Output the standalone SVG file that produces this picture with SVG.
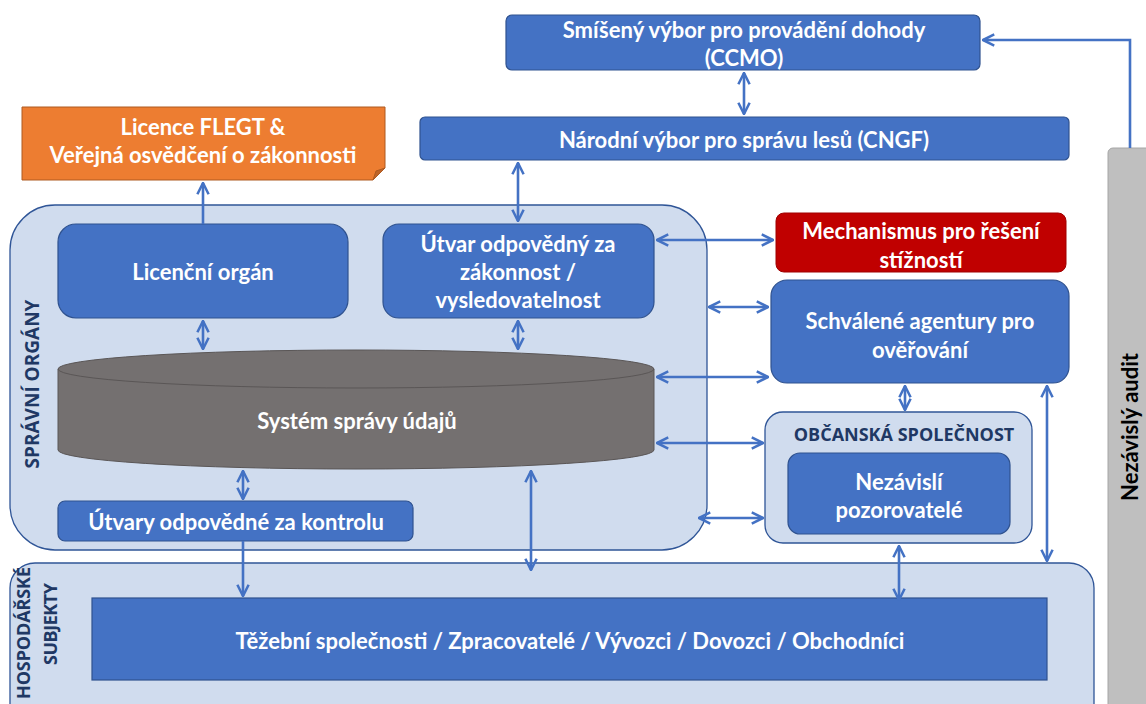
<svg xmlns="http://www.w3.org/2000/svg" width="1146" height="704" viewBox="0 0 1146 704">
<defs>
<style>
.box{fill:#4472C4;stroke:#2F528F;stroke-width:1.2}
.cont{fill:#D0DCEE;stroke:#2F5597;stroke-width:1.3}
.t{font-family:Lato,"Open Sans","Liberation Sans",sans-serif;font-weight:bold;font-size:22px;fill:#fff;text-anchor:middle;dominant-baseline:central}
.lab{font-family:"Open Sans",Lato,"Liberation Sans",sans-serif;font-weight:bold;font-size:18px;fill:#203864;text-anchor:middle;dominant-baseline:central}
.c{fill:none;stroke:#4472C4;stroke-width:2.6}
</style>
<marker id="ah" viewBox="0 0 10 10" refX="9" refY="5" markerWidth="5.4" markerHeight="5.4" orient="auto-start-reverse" markerUnits="strokeWidth">
<path d="M1,1 L9,5 L1,9" fill="none" stroke="#4472C4" stroke-width="1.8"/>
</marker>
</defs>
<rect width="1146" height="704" fill="#fff"/>

<g id="audit">
<rect x="1108" y="148" width="50" height="570" rx="5" fill="#BFBFBF" stroke="#A6A6A6"/>
<text class="t" transform="translate(1129,427) rotate(-90)" style="fill:#000">Nezávislý audit</text>
</g>

<g id="spravni-organy">
<rect class="cont" x="10" y="205" width="697" height="345" rx="45"/>
<text class="lab" transform="translate(32,384) rotate(-90)" style="font-size:19px">SPRÁVNÍ ORGÁNY</text>
</g>

<g id="hospodarske-subjekty">
<rect class="cont" x="10" y="563" width="1084" height="170" rx="25"/>
<text class="lab" transform="translate(23,633) rotate(-90)" textLength="132" lengthAdjust="spacing">HOSPODÁŘSKÉ</text>
<text class="lab" transform="translate(50,624) rotate(-90)" textLength="82" lengthAdjust="spacing">SUBJEKTY</text>
</g>

<g id="obcanska-spolecnost">
<rect class="cont" x="765" y="412" width="267" height="131" rx="18"/>
<text class="lab" x="904" y="434">OBČANSKÁ SPOLEČNOST</text>
</g>

<g id="licence">
<path d="M22,107 H385 V168 L373,180 H22 Z" fill="#ED7D31" stroke="#AE5A21" stroke-width="1"/>
<path d="M373,180 L376,171 L385,168 Z" fill="#BE6428" stroke="#AE5A21" stroke-width="1"/>
<text class="t" x="203" y="126">Licence FLEGT &amp;</text>
<text class="t" x="203" y="154">Veřejná osvědčení o zákonnosti</text>
</g>

<g id="ccmo">
<rect class="box" x="506" y="15" width="474" height="55" rx="6"/>
<text class="t" x="744" y="29">Smíšený výbor pro provádění dohody</text>
<text class="t" x="744" y="57">(CCMO)</text>
</g>

<g id="cngf">
<rect class="box" x="420" y="117" width="649" height="43" rx="5"/>
<text class="t" x="744" y="139">Národní výbor pro správu lesů (CNGF)</text>
</g>

<g id="licencni-organ">
<rect class="box" x="58" y="224" width="290" height="94" rx="18"/>
<text class="t" x="203" y="271">Licenční orgán</text>
</g>

<g id="utvar-zakonnost">
<rect class="box" x="383" y="224" width="271" height="94" rx="16"/>
<text class="t" x="518" y="243">Útvar odpovědný za</text>
<text class="t" x="518" y="271">zákonnost /</text>
<text class="t" x="518" y="299">vysledovatelnost</text>
</g>

<g id="system-spravy-udaju">
<path d="M58,369 A298,19 0 0 1 654,369 V450 A298,19 0 0 1 58,450 Z" fill="#747070" stroke="#5A5656" stroke-width="1"/>
<path d="M58,369 A298,19 0 0 0 654,369" fill="none" stroke="#5A5656" stroke-width="1"/>
<text class="t" x="357" y="420">Systém správy údajů</text>
</g>

<g id="utvary-kontrola">
<rect class="box" x="58" y="501" width="355" height="40" rx="7"/>
<text class="t" x="236" y="521">Útvary odpovědné za kontrolu</text>
</g>

<g id="mechanismus">
<rect x="776" y="213" width="290" height="59" rx="8" fill="#C00000" stroke="#A00000" stroke-width="1"/>
<text class="t" x="921" y="230">Mechanismus pro řešení</text>
<text class="t" x="921" y="259">stížností</text>
</g>

<g id="schvalene-agentury">
<rect class="box" x="771" y="280" width="298" height="103" rx="16"/>
<text class="t" x="920" y="320">Schválené agentury pro</text>
<text class="t" x="920" y="349">ověřování</text>
</g>

<g id="nezavisli-pozorovatele">
<rect class="box" x="788" y="453" width="222" height="81" rx="12"/>
<text class="t" x="899" y="481">Nezávislí</text>
<text class="t" x="899" y="509">pozorovatelé</text>
</g>

<g id="tezebni-spolecnosti">
<rect class="box" x="92" y="598" width="955" height="82"/>
<text class="t" x="570" y="640">Těžební společnosti / Zpracovatelé / Vývozci / Dovozci / Obchodníci</text>
</g>

<g id="connectors">
<path class="c" d="M1130,148 V40 H983" marker-end="url(#ah)"/>
<path class="c" d="M744,73 V114" marker-start="url(#ah)" marker-end="url(#ah)"/>
<path class="c" d="M518,163 V221" marker-start="url(#ah)" marker-end="url(#ah)"/>
<path class="c" d="M203,224 V183" marker-end="url(#ah)"/>
<path class="c" d="M203,321 V349" marker-start="url(#ah)" marker-end="url(#ah)"/>
<path class="c" d="M518,321 V349" marker-start="url(#ah)" marker-end="url(#ah)"/>
<path class="c" d="M243,471 V499" marker-start="url(#ah)" marker-end="url(#ah)"/>
<path class="c" d="M243,541 V596" marker-end="url(#ah)"/>
<path class="c" d="M531,471 V570" marker-start="url(#ah)" marker-end="url(#ah)"/>
<path class="c" d="M657,240 H773" marker-start="url(#ah)" marker-end="url(#ah)"/>
<path class="c" d="M709,307 H768" marker-start="url(#ah)" marker-end="url(#ah)"/>
<path class="c" d="M657,377 H768" marker-start="url(#ah)" marker-end="url(#ah)"/>
<path class="c" d="M657,443 H763" marker-start="url(#ah)" marker-end="url(#ah)"/>
<path class="c" d="M699,518 H763" marker-start="url(#ah)" marker-end="url(#ah)"/>
<path class="c" d="M905,386 V410" marker-start="url(#ah)" marker-end="url(#ah)"/>
<path class="c" d="M1047,386 V561" marker-start="url(#ah)" marker-end="url(#ah)"/>
<path class="c" d="M899,546 V600" marker-start="url(#ah)" marker-end="url(#ah)"/>
</g>
</svg>
